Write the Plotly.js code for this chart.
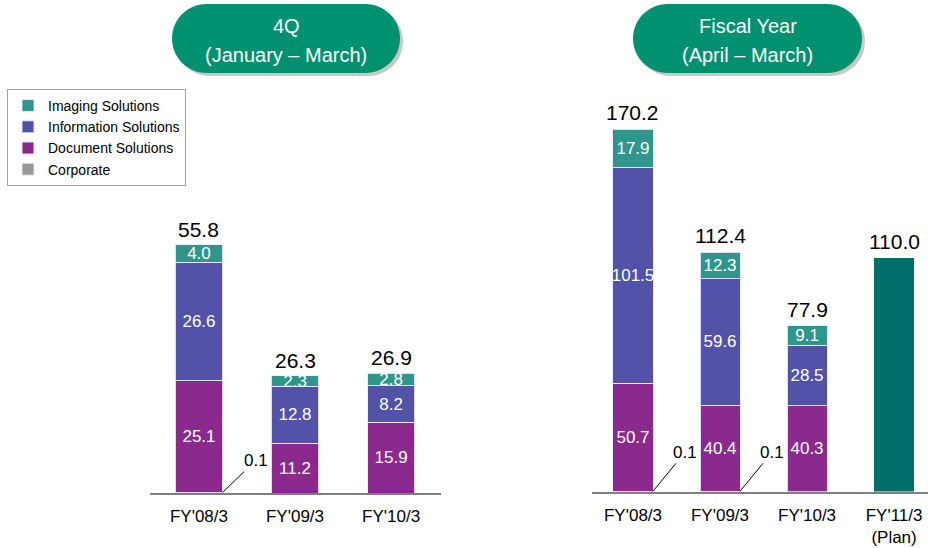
<!DOCTYPE html>
<html>
<head>
<meta charset="utf-8">
<script src="https://cdn.plot.ly/plotly-3.0.1.min.js"></script>
<style>html,body{margin:0;padding:0;background:#fff}#chart{width:928px;height:548px}</style>
</head>
<body>
<div id="chart"></div>
<script>
// ---- Data: 4Q (January – March) ----
const categories4Q = ["FY'08/3", "FY'09/3", "FY'10/3"];
const imaging4Q = [4.0, 2.3, 2.8];
const info4Q = [26.6, 12.8, 8.2];
const doc4Q = [25.1, 11.2, 15.9];
const corp4Q = [0.1, 0, 0];
const total4Q = [55.8, 26.3, 26.9];

// ---- Data: Fiscal Year (April – March) ----
const categoriesFY = ["FY'08/3", "FY'09/3", "FY'10/3", "FY'11/3<br>(Plan)"];
const imagingFY = [17.9, 12.3, 9.1, null];
const infoFY = [101.5, 59.6, 28.5, null];
const docFY = [50.7, 40.4, 40.3, null];
const corpFY = [0.1, 0.1, 0, null];
const planFY = [null, null, null, 110.0];
const totalFY = [170.2, 112.4, 77.9, 110.0];

const seriesNames = ["Corporate", "Document Solutions", "Information Solutions", "Imaging Solutions"];

// ---- Styles ----
const W = 928, H = 548;
const FONT = "Liberation Sans, Arial, sans-serif";
const colors = {
  "Imaging Solutions": "#2f968c",
  "Information Solutions": "#5252a8",
  "Document Solutions": "#8a2a8c",
  "Corporate": "#999999"
};
const planColor = "#006e6b";
const segLine = {color: "rgba(235,235,255,0.9)", width: 1};

const fmt = v => (v == null || v === 0) ? "" : v.toFixed(1);

function barTrace(name, cats, vals, xa, ya, width, legend, withText) {
  return {
    type: "bar", name: name, x: cats, y: vals, xaxis: xa, yaxis: ya,
    width: width,
    marker: {color: colors[name], line: segLine},
    text: withText ? vals.map(fmt) : undefined,
    textposition: withText ? "inside" : "none",
    insidetextanchor: "middle",
    textangle: 0,
    constraintext: "none",
    textfont: {color: "#ffffff", size: 17, family: FONT},
    showlegend: legend, legendgroup: name,
    hoverinfo: "x+y+name"
  };
}

const data4Q = [corp4Q, doc4Q, info4Q, imaging4Q];
const dataFY = [corpFY, docFY, infoFY, imagingFY];
const traces = [];
seriesNames.forEach((n, i) => {
  traces.push(barTrace(n, categories4Q, data4Q[i], "x", "y", 0.49, true, n !== "Corporate"));
});
seriesNames.forEach((n, i) => {
  traces.push(barTrace(n, categoriesFY, dataFY[i], "x2", "y2", 0.46, false, n !== "Corporate"));
});
traces.push({
  type: "bar", name: "Plan", x: categoriesFY, y: planFY, xaxis: "x2", yaxis: "y2",
  width: 0.46, marker: {color: planColor, line: {width: 0}}, showlegend: false,
  textposition: "none"
});

// ---- Annotations ----
const annotations = [];
total4Q.forEach((t, i) => annotations.push({
  x: categories4Q[i], y: t, xref: "x", yref: "y", text: t.toFixed(1),
  showarrow: false, yanchor: "bottom", yshift: 2, font: {size: 21, color: "#000", family: FONT}
}));
totalFY.forEach((t, i) => annotations.push({
  x: categoriesFY[i], y: t, xref: "x2", yref: "y2", text: t.toFixed(1),
  showarrow: false, yanchor: "bottom", yshift: 3, font: {size: 21, color: "#000", family: FONT}
}));
corp4Q.forEach((v, i) => { if (v) annotations.push({
  x: i + 0.245, y: v, xref: "x", yref: "y", text: v.toFixed(1),
  showarrow: true, arrowhead: 0, arrowwidth: 1, arrowcolor: "#000", ax: 33, ay: -32, standoff: 0,
  font: {size: 17, color: "#000", family: FONT}
}); });
corpFY.forEach((v, i) => { if (v) annotations.push({
  x: i + 0.23, y: v, xref: "x2", yref: "y2", text: v.toFixed(1),
  showarrow: true, arrowhead: 0, arrowwidth: 1, arrowcolor: "#000", ax: 32, ay: -39, standoff: 0,
  font: {size: 17, color: "#000", family: FONT}
}); });

// Title pills
function pill(x0, y0, x1, y1, fill) {
  const r = (y1 - y0) / 2, cy = (y0 + y1) / 2, k = 0.5523 * r;
  const P = (x, y) => (x / W).toFixed(5) + "," + (1 - y / H).toFixed(5);
  const d = "M" + P(x0 + r, y0) + " L" + P(x1 - r, y0) +
    " C" + P(x1 - r + k, y0) + " " + P(x1, cy - k) + " " + P(x1, cy) +
    " C" + P(x1, cy + k) + " " + P(x1 - r + k, y1) + " " + P(x1 - r, y1) +
    " L" + P(x0 + r, y1) +
    " C" + P(x0 + r - k, y1) + " " + P(x0, cy + k) + " " + P(x0, cy) +
    " C" + P(x0, cy - k) + " " + P(x0 + r - k, y0) + " " + P(x0 + r, y0) + " Z";
  return {type: "path", xref: "paper", yref: "paper", path: d, fillcolor: fill, line: {width: 0}, layer: "above"};
}
const pillGreen = "#009170";
const shapes = [
  pill(175, 7, 403, 76, "#c8c8c8"), pill(172, 4, 400, 73, pillGreen),
  pill(636, 7, 865, 76, "#c8c8c8"), pill(633, 4, 862, 73, pillGreen)
];
const titleLines = [
  {x: 286, y: 26, t: "4Q"}, {x: 286, y: 55, t: "(January – March)"},
  {x: 747.5, y: 26, t: "Fiscal Year"}, {x: 747.5, y: 55, t: "(April – March)"}
];
titleLines.forEach(l => annotations.push({
  x: l.x / W, y: 1 - l.y / H, xref: "paper", yref: "paper", text: l.t, showarrow: false,
  xanchor: "center", yanchor: "middle", font: {size: 20, color: "#ffffff", family: FONT}
}));

const axisX = {
  type: "category", showgrid: false, zeroline: false, showline: true, linecolor: "#808080", linewidth: 2,
  ticks: "", tickfont: {size: 17, color: "#000", family: FONT}, ticklabelstandoff: 7, fixedrange: true
};
const axisY = {showgrid: false, zeroline: false, showline: false, showticklabels: false, ticks: "", fixedrange: true};

const layout = {
  width: W, height: H, margin: {l: 0, r: 0, t: 0, b: 0},
  paper_bgcolor: "#fff", plot_bgcolor: "rgba(0,0,0,0)",
  barmode: "stack", bargap: 0,
  font: {family: FONT, color: "#000"},
  xaxis: Object.assign({}, axisX, {domain: [150 / W, 441 / W], range: [-0.51, 2.52], anchor: "y"}),
  yaxis: Object.assign({}, axisY, {domain: [(H - 493) / H, (H - 60) / H], range: [0, 433 / 4.45], anchor: "x"}),
  xaxis2: Object.assign({}, axisX, {domain: [592 / W, 1], range: [-0.471, 3.39], anchor: "y2"}),
  yaxis2: Object.assign({}, axisY, {domain: [(H - 491.5) / H, (H - 60) / H], range: [0, 431.5 / 2.127], anchor: "x2"}),
  legend: {
    x: 7 / W, y: 1 - 89 / H, xanchor: "left", yanchor: "top", traceorder: "reversed",
    bgcolor: "#fff", bordercolor: "#a0a0a0", borderwidth: 1,
    font: {size: 14, color: "#000", family: FONT}, itemwidth: 30, tracegroupgap: 0,
    entrywidth: 186, entrywidthmode: "pixels"
  },
  showlegend: true,
  annotations: annotations,
  shapes: shapes
};

Plotly.newPlot("chart", traces, layout, {displayModeBar: false, staticPlot: true});
</script>
</body>
</html>
